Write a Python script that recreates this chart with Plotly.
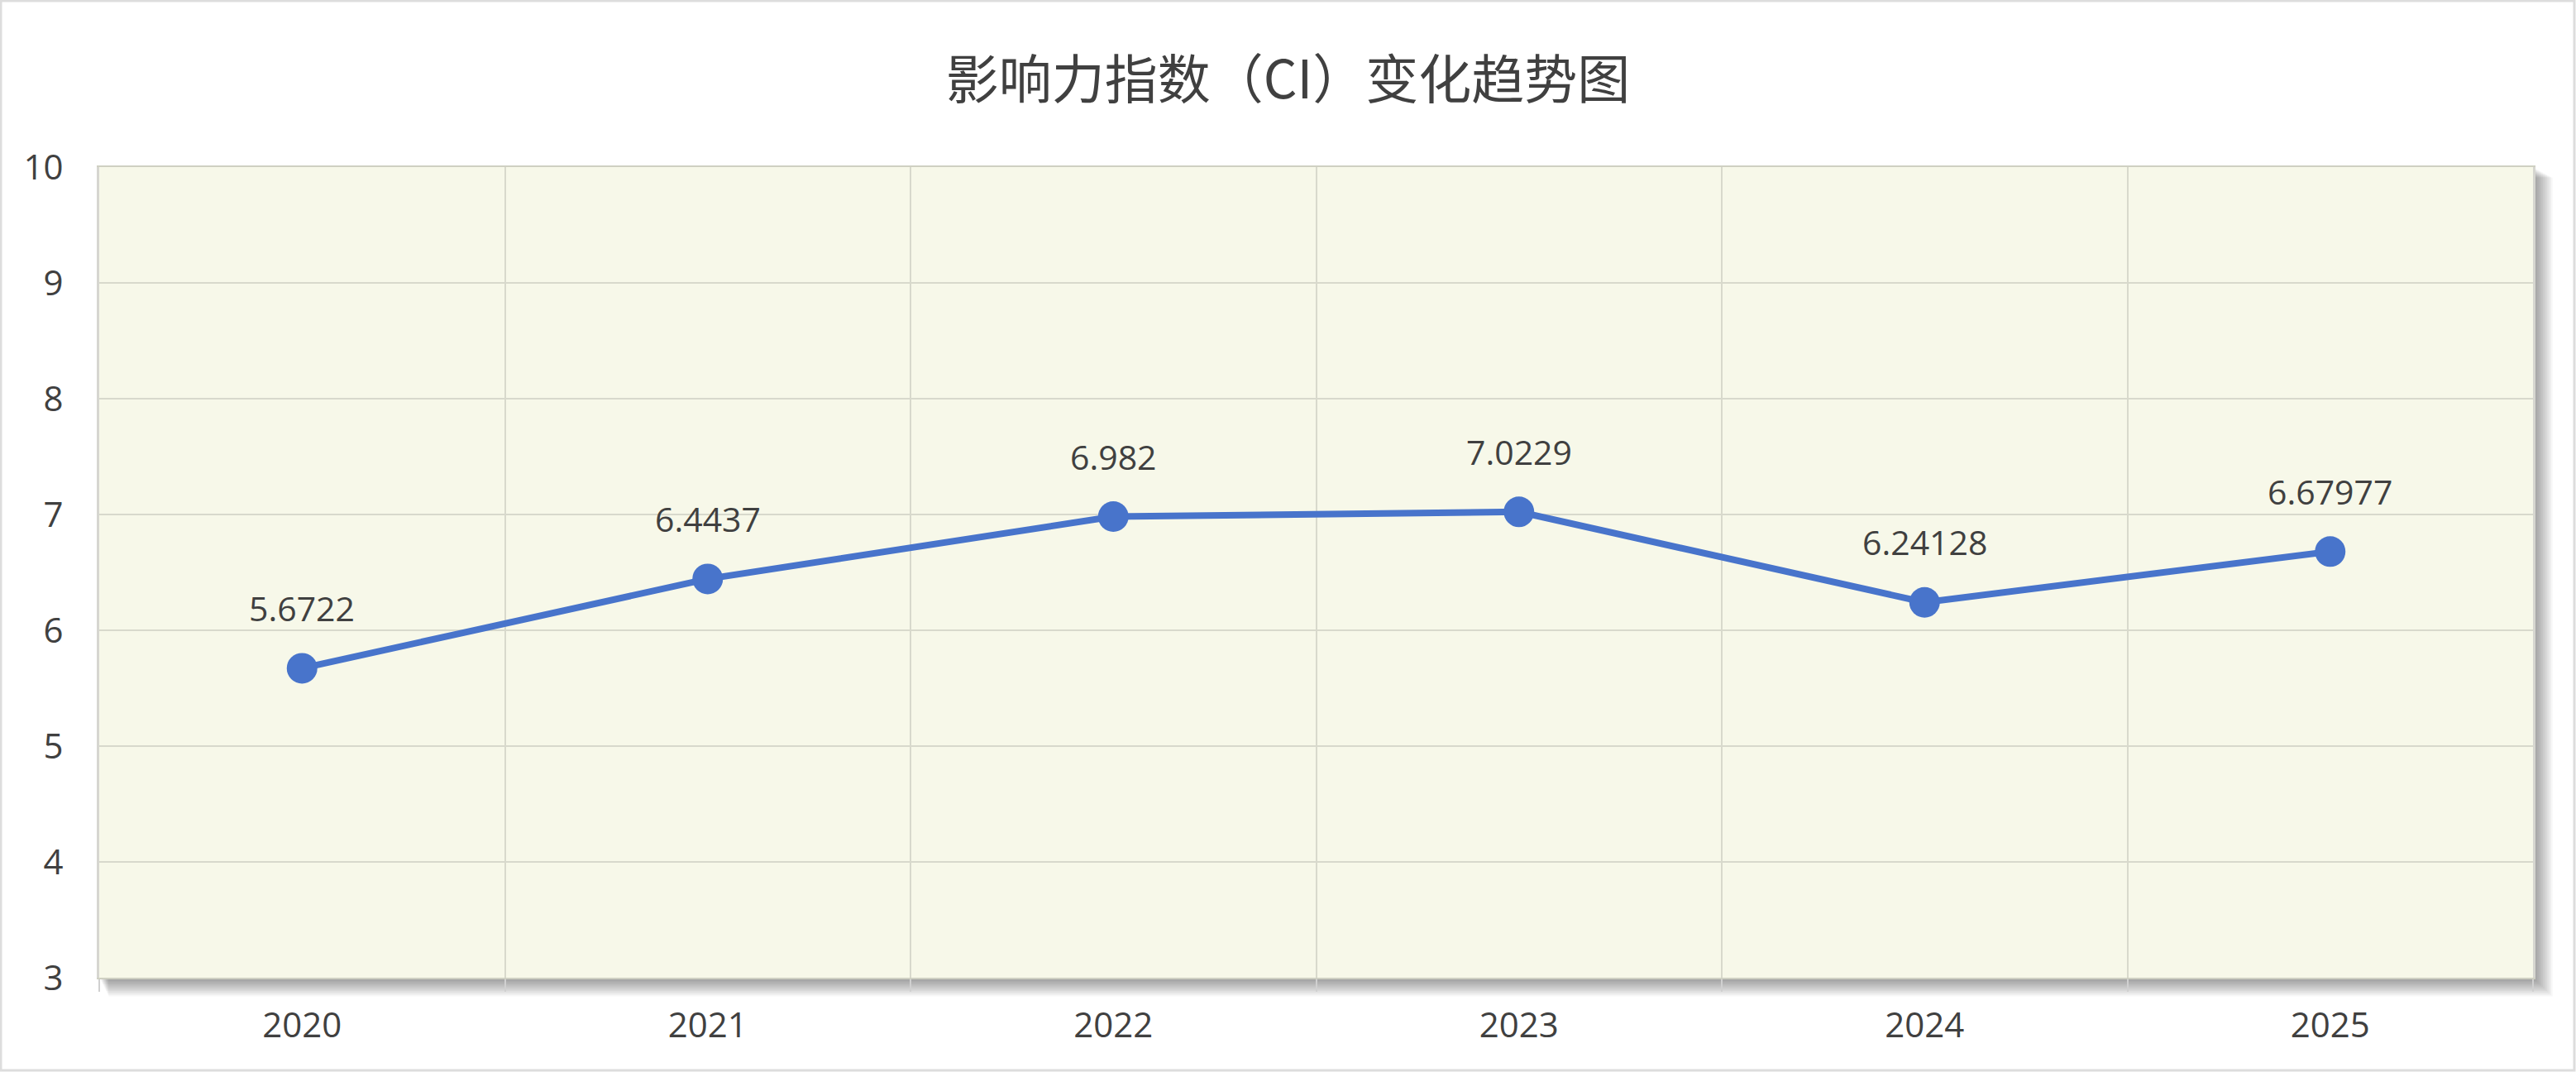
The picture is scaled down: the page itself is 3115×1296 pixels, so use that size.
import plotly.graph_objects as go

years = ["2020", "2021", "2022", "2023", "2024", "2025"]
ci_values = [5.6722, 6.4437, 6.982, 7.0229, 6.24128, 6.67977]
value_labels = ["5.6722", "6.4437", "6.982", "7.0229", "6.24128", "6.67977"]
y_ticks = [3, 4, 5, 6, 7, 8, 9, 10]
title_text = "影响力指数（CI）变化趋势图"

W, H = 3115, 1296
ML, MR, MT, MB = 120, 52, 202, 114
PW = W - ML - MR
PH = H - MT - MB

TXT = "#404040"
BLUE = "#4874CB"
GRID = "#d8d9cc"
FONT = "Open Sans, Noto Sans CJK SC"

fig = go.Figure()

fig.add_trace(go.Scatter(
    x=years, y=ci_values,
    mode="lines+markers",
    line=dict(color=BLUE, width=8),
    marker=dict(color=BLUE, size=37, line=dict(width=0)),
    hoverinfo="skip",
    showlegend=False,
))

annotations = []
for i, (v, lab) in enumerate(zip(ci_values, value_labels)):
    annotations.append(dict(
        x=i, y=v, xref="x", yref="y",
        text=lab, showarrow=False,
        yshift=73, xanchor="center", yanchor="middle",
        font=dict(family=FONT, size=41, color=TXT),
    ))

shapes = []
# drop shadow right / bottom of plot area
for i in range(1, 15):
    shapes.append(dict(
        type="rect", xref="paper", yref="paper", layer="below",
        x0=(i * 0.8) / PW, x1=1 + (i * 1.7) / PW,
        y0=-(i * 1.6) / PH, y1=1 - (i * 0.9) / PH,
        line=dict(width=0), fillcolor="rgba(0,0,0,0.03)",
    ))
# plot background on top of shadow
shapes.append(dict(
    type="rect", xref="paper", yref="paper", layer="below",
    x0=0, x1=1, y0=0, y1=1,
    line=dict(width=0), fillcolor="#f7f8e9",
))
# outer border of the image
shapes.append(dict(
    type="rect", xref="paper", yref="paper", layer="above",
    x0=(-ML + 1) / PW, x1=(W - ML - 2) / PW,
    y0=(-MB + 2) / PH, y1=(H - MB - 1) / PH,
    line=dict(width=3, color="#dddddd"), fillcolor="rgba(0,0,0,0)",
))

fig.update_layout(
    width=W, height=H,
    margin=dict(l=ML, r=MR, t=MT, b=MB, pad=0, autoexpand=False),
    paper_bgcolor="white",
    plot_bgcolor="rgba(0,0,0,0)",
    title=dict(
        text=title_text,
        font=dict(family="Noto Sans CJK SC", size=64, color=TXT),
        x=0.5, xanchor="center", xref="container",
        y=1 - 97 / H, yanchor="middle", yref="container",
    ),
    shapes=shapes,
    annotations=annotations,
    xaxis=dict(
        type="category",
        categoryorder="array", categoryarray=years,
        range=[-0.5, len(years) - 0.5],
        tickson="boundaries",
        ticks="outside", ticklen=15, tickwidth=2, tickcolor="#d0d0d0",
        showgrid=True, gridcolor=GRID, gridwidth=2,
        showline=True, linecolor="#cfd0c2", linewidth=2, mirror=True,
        tickfont=dict(family=FONT, size=42, color=TXT),
        ticklabelstandoff=20,
        zeroline=False,
        automargin=False,
    ),
    yaxis=dict(
        range=[3, 10],
        tickvals=y_ticks,
        ticktext=[str(v) for v in y_ticks],
        ticks="",
        showgrid=True, gridcolor=GRID, gridwidth=2,
        showline=True, linecolor="#d6d6d0", linewidth=3, mirror=True,
        tickfont=dict(family=FONT, size=42, color=TXT),
        ticklabelstandoff=32,
        zeroline=False,
        automargin=False,
    ),
)

fig.write_html(
    "out.html",
    config={"displayModeBar": False},
    post_script="document.body.style.margin='0px';",
)
